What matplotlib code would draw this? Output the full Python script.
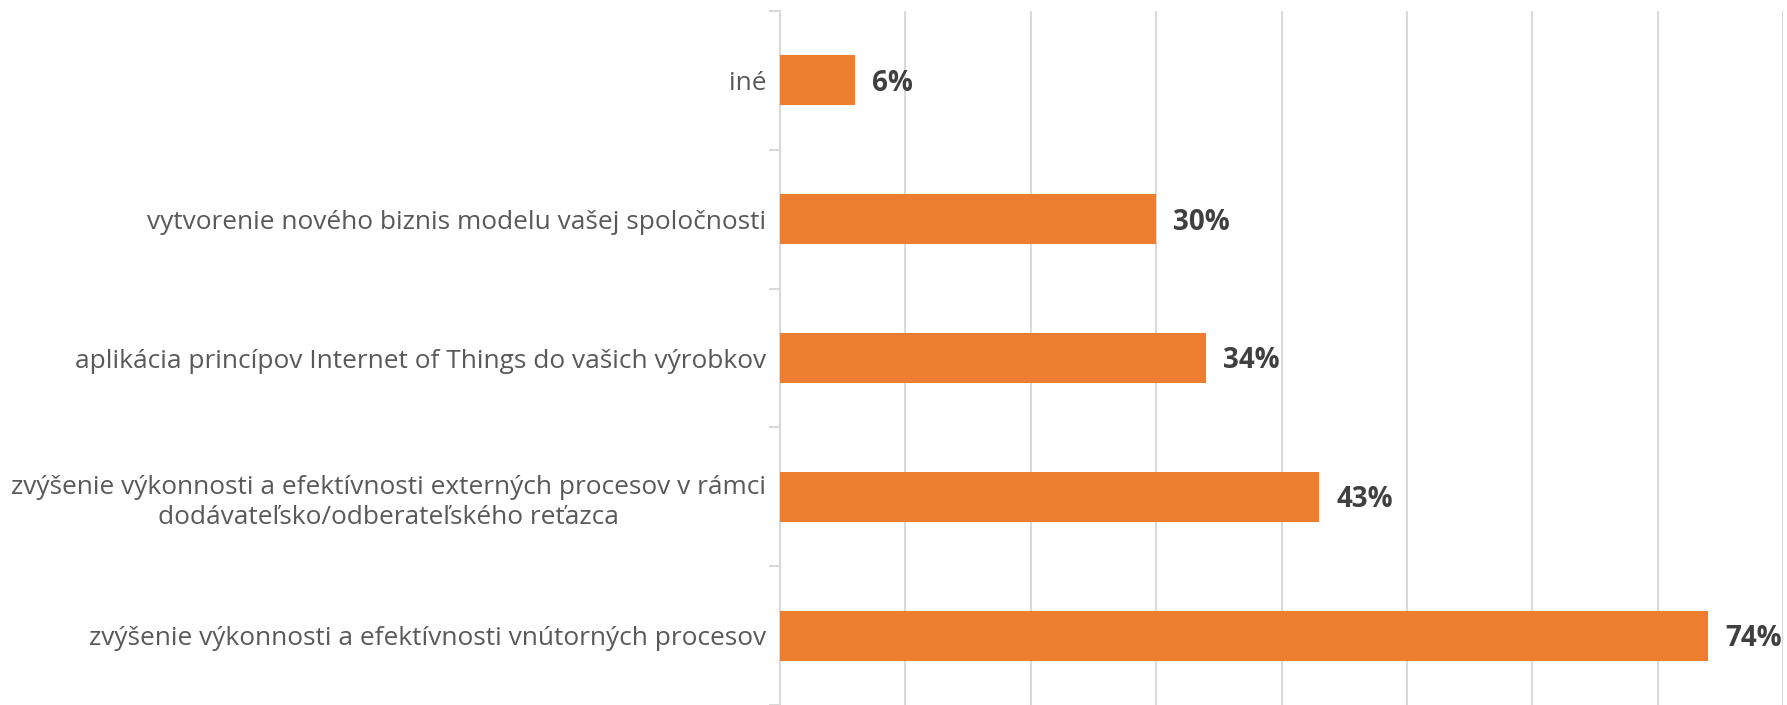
import matplotlib
matplotlib.use("Agg")
import matplotlib.pyplot as plt

categories = [
    "zvýšenie výkonnosti a efektívnosti vnútorných procesov",
    "zvýšenie výkonnosti a efektívnosti externých procesov v rámci\ndodávateľsko/odberateľského reťazca",
    "aplikácia princípov Internet of Things do vašich výrobkov",
    "vytvorenie nového biznis modelu vašej spoločnosti",
    "iné",
]
values = [74, 43, 34, 30, 6]
labels = ["74%", "43%", "34%", "30%", "6%"]

W, H = 1787, 705
fig = plt.figure(figsize=(W / 100, H / 100), dpi=100)
ax = fig.add_axes([780 / W, 0, (1783 - 780) / W, 1 - 11 / H])

ypos = list(range(len(categories)))
ax.barh(ypos, values, height=0.36, color="#ED7D31", zorder=3)
ax.set_xlim(0, 80)
ax.set_ylim(-0.5, len(categories) - 0.5)

ax.set_xticks(range(0, 81, 10))
ax.tick_params(axis="x", length=0, labelbottom=False)
ax.grid(axis="x", color="#D9D9D9", linewidth=1.5, zorder=0)

ax.set_yticks(ypos)
ax.set_yticklabels(categories, fontsize=18.9, color="#595959", family="Open Sans",
                   multialignment="center", linespacing=1.25)
ax.tick_params(axis="y", length=0, pad=10)
ax.set_yticks([i - 0.5 for i in range(len(categories) + 1)], minor=True)
ax.tick_params(axis="y", which="minor", length=8, width=1.5, color="#D9D9D9")

for s in ["top", "right", "bottom"]:
    ax.spines[s].set_visible(False)
ax.spines["left"].set_color("#D9D9D9")
ax.spines["left"].set_linewidth(1.5)

for y, v, t in zip(ypos, values, labels):
    ax.annotate(t, xy=(v, y), xytext=(17, -3), textcoords="offset pixels",
                va="center", ha="left", fontsize=20, fontweight="bold",
                color="#404040", family="Open Sans")

fig.savefig("out.png", dpi=100)
